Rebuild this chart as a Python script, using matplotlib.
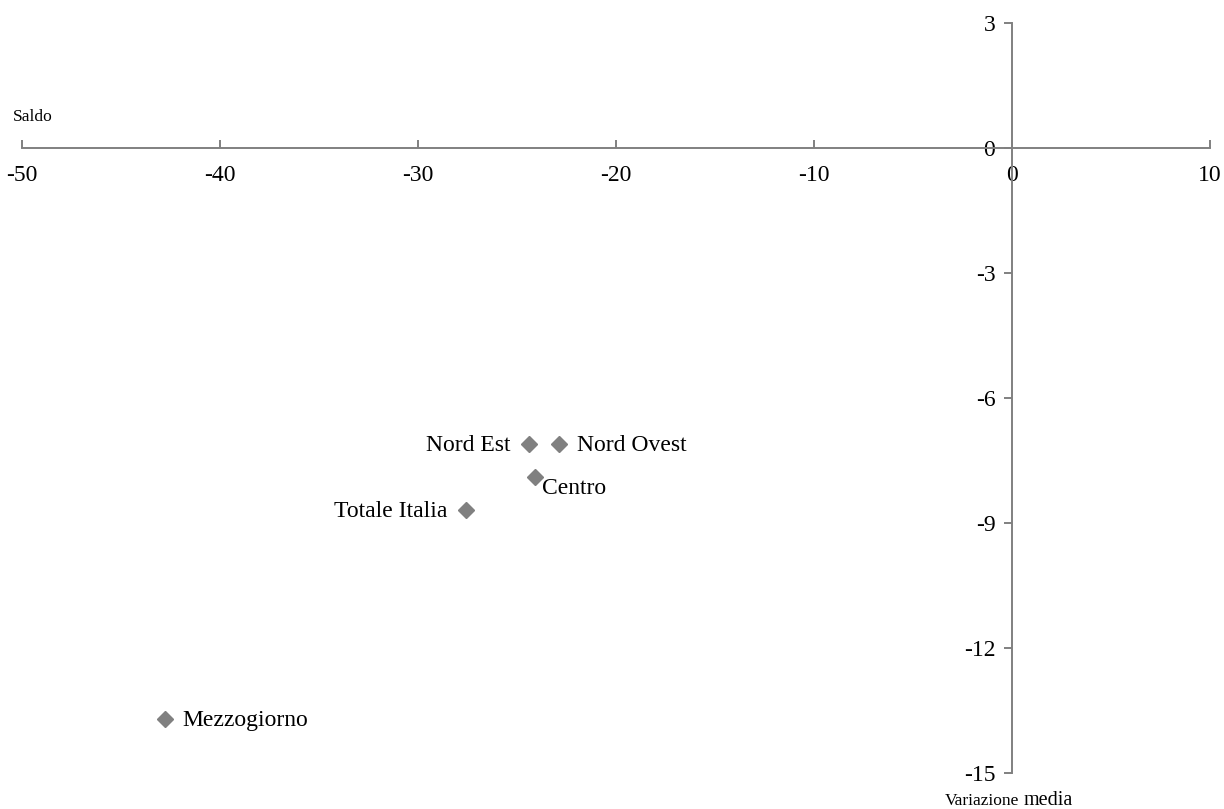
import matplotlib
matplotlib.use("Agg")
import matplotlib.pyplot as plt

# dati: saldo (x) e variazione media (y) per ripartizione
regioni = ["Nord Est", "Nord Ovest", "Centro", "Totale Italia", "Mezzogiorno"]
saldo = [-24.4, -22.9, -24.1, -27.6, -42.8]
variazione = [-7.1, -7.1, -7.9, -8.7, -13.7]

x_ticks = [-50, -40, -30, -20, -10, 0, 10]
y_ticks = [3, 0, -3, -6, -9, -12, -15]

# posizione etichette (offset in punti, allineamento)
label_pos = {
    "Nord Est": ((-13, -1), "right", "center"),
    "Nord Ovest": ((13, -1), "left", "center"),
    "Centro": ((5, -8), "left", "center"),
    "Totale Italia": ((-13, -1), "right", "center"),
    "Mezzogiorno": ((13, -1), "left", "center"),
}

plt.rcParams["font.family"] = ["Liberation Serif", "DejaVu Serif"]
grey = "#808080"

fig = plt.figure(figsize=(12.24, 8.09), dpi=100)
fig.patch.set_facecolor("white")
ax = fig.add_axes([22 / 1224, 1 - 773 / 809, 1188 / 1224, 750 / 809])

ax.plot(saldo, variazione, linestyle="none", marker="D", ms=8.5,
        color=grey, zorder=3)

for name, x, y in zip(regioni, saldo, variazione):
    off, ha, va = label_pos[name]
    ax.annotate(name, (x, y), xytext=off, textcoords="offset points",
                ha=ha, va=va, fontsize=17, color="black")

ax.set_xlim(-50, 10)
ax.set_ylim(-15, 3)
ax.set_xticks(x_ticks)
ax.set_yticks(y_ticks)
ax.set_xticklabels([str(t) for t in x_ticks])
ax.set_yticklabels([str(t) for t in y_ticks])

ax.spines["top"].set_visible(False)
ax.spines["right"].set_visible(False)
ax.spines["bottom"].set_position(("data", 0))
ax.spines["left"].set_position(("data", 0))
for s in ("bottom", "left"):
    ax.spines[s].set_color(grey)
    ax.spines[s].set_linewidth(1.4)

ax.tick_params(axis="x", direction="in", length=6, width=1.4, color=grey,
               labelsize=17, pad=12)
ax.tick_params(axis="y", direction="out", length=6, width=1.4, color=grey,
               labelsize=17, pad=6)

fig.text(13 / 1224, 1 - 117 / 809, "Saldo", fontsize=12.5, ha="left",
         va="center")
fig.text(1019 / 1224, 1 - 805 / 809, "Variazione", fontsize=12.5, ha="right",
         va="baseline")
fig.text(1024 / 1224, 1 - 805 / 809, "media", fontsize=14.5, ha="left",
         va="baseline")

fig.savefig("out.png", dpi=100, facecolor="white")
